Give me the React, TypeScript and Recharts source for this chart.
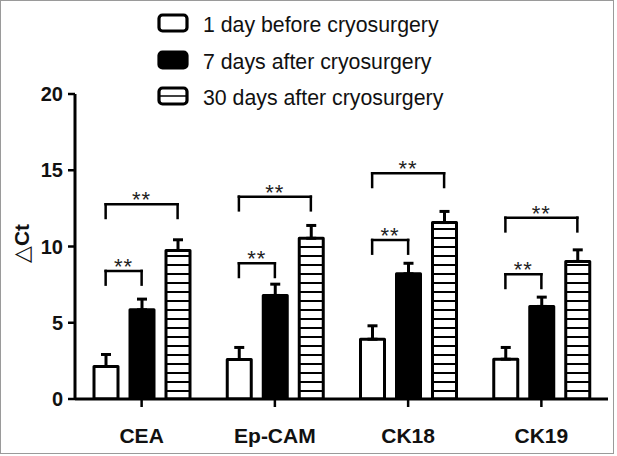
import React from 'react';
import {
  ComposedChart,
  Bar,
  XAxis,
  YAxis,
  ErrorBar,
  ReferenceLine,
  ReferenceDot,
  Legend,
} from 'recharts';

// ---------- data ----------
const categories = ['CEA', 'Ep-CAM', 'CK18', 'CK19'];
const seriesNames = [
  '1 day before cryosurgery',
  '7 days after cryosurgery',
  '30 days after cryosurgery',
];
const beforeValues = [2.13, 2.59, 3.92, 2.61];
const beforeErrors = [0.79, 0.79, 0.88, 0.77];
const day7Values = [5.85, 6.79, 8.21, 6.07];
const day7Errors = [0.7, 0.74, 0.69, 0.61];
const day30Values = [9.74, 10.54, 11.57, 9.02];
const day30Errors = [0.7, 0.84, 0.73, 0.76];
const shortBracketLevels = [8.4, 8.9, 10.43, 8.18];
const longBracketLevels = [12.77, 13.27, 14.8, 11.89];
const bracketLeg = 0.9;
const significanceMark = '**';
const yTicks = [0, 5, 10, 15, 20];
const yLabel = '\u25B3Ct';

const data = categories.map((name, i) => ({
  name,
  pos: i + 0.5,
  before: beforeValues[i],
  beforeErr: [0, beforeErrors[i]],
  day7: day7Values[i],
  day7Err: [0, day7Errors[i]],
  day30: day30Values[i],
  day30Err: [0, day30Errors[i]],
}));

// ---------- layout / style ----------
const W = 617;
const H = 456;
const BAR_OFFSET = 0.27; // offset of side bars from group centre, in group units
const FONT = 'Arial, "Liberation Sans", Helvetica, sans-serif';

const StarShape = (props: any) => (
  <text
    x={props.cx}
    y={props.cy + 3}
    textAnchor="middle"
    fontFamily={FONT}
    fontSize={22}
    fill="#222"
    letterSpacing={1}
  >
    {significanceMark}
  </text>
);

const YLabel = (props: any) => {
  const vb = props.viewBox || { x: 0, y: 94, width: 75, height: 305 };
  const cx = 21;
  const cy = vb.y + vb.height / 2 - 3;
  return (
    <text
      x={cx}
      y={cy}
      transform={`rotate(-90 ${cx} ${cy})`}
      textAnchor="middle"
      dominantBaseline="central"
      fontFamily={FONT}
      fontSize={21}
      fontWeight="bold"
      fill="#111"
    >
      <tspan fontWeight="normal" fontSize={22}>{yLabel.charAt(0)}</tspan>
      <tspan>{yLabel.slice(1)}</tspan>
    </text>
  );
};

const LegendContent = () => {
  const rows = [23, 60, 96];
  const fills = ['#fff', '#000', '#fff'];
  return (
    <svg width={440} height={115} style={{ overflow: 'visible' }}>
      {seriesNames.map((s, i) => (
        <g key={s}>
          <rect
            x={9}
            y={rows[i] - 8}
            width={28}
            height={16}
            rx={3.5}
            fill={fills[i]}
            stroke="#000"
            strokeWidth={3.2}
          />
          {i === 2 && (
            <line x1={10} x2={36} y1={rows[i]} y2={rows[i]} stroke="#000" strokeWidth={1.5} />
          )}
          <text
            x={53}
            y={rows[i] + 8.5}
            fontFamily={FONT}
            fontSize={21.3}
            fill="#111"
          >
            {s}
          </text>
        </g>
      ))}
    </svg>
  );
};

const brackets = categories.flatMap((c, i) => {
  const centre = data[i].pos;
  const left = centre - BAR_OFFSET;
  const mid = centre;
  const right = centre + BAR_OFFSET;
  const out: any[] = [];
  const mk = (key: string, x1: number, x2: number, lvl: number) => {
    const common = {
      xAxisId: 'n',
      stroke: '#000',
      strokeWidth: 2.5,
      strokeLinecap: 'square' as const,
      ifOverflow: 'visible' as const,
    };
    out.push(
      <ReferenceLine key={key + 'h'} {...common} segment={[{ x: x1, y: lvl }, { x: x2, y: lvl }]} />,
      <ReferenceLine key={key + 'l'} {...common} segment={[{ x: x1, y: lvl }, { x: x1, y: lvl - bracketLeg }]} />,
      <ReferenceLine key={key + 'r'} {...common} segment={[{ x: x2, y: lvl }, { x: x2, y: lvl - bracketLeg }]} />,
      <ReferenceDot
        key={key + 's'}
        xAxisId="n"
        x={(x1 + x2) / 2}
        y={lvl}
        r={0}
        shape={StarShape}
        ifOverflow="visible"
      />
    );
  };
  mk(c + 'short', left, mid, shortBracketLevels[i]);
  mk(c + 'long', left, right, longBracketLevels[i]);
  return out;
});

export default function App() {
  return (
    <div
      style={{
        position: 'absolute',
        left: 0,
        top: 0,
        width: W,
        height: H,
        background: '#fff',
      }}
    >
      <svg width={0} height={0} style={{ position: 'absolute' }}>
        <defs>
          <pattern id="hstripes" patternUnits="userSpaceOnUse" width={10} height={9}>
            <rect width={10} height={9} fill="#fff" />
            <rect y={3} width={10} height={2} fill="#000" />
          </pattern>
        </defs>
      </svg>
      <div
        style={{
          position: 'absolute',
          left: 0,
          top: 0,
          width: 612,
          height: 452,
          border: '1px solid #9a9a9a',
          pointerEvents: 'none',
          zIndex: 2,
        }}
      />
      <ComposedChart
        width={W}
        height={H}
        data={data}
        margin={{ top: 94, right: 9, bottom: 27, left: 0 }}
        barSize={24}
        barGap={12}
      >
        <XAxis
          xAxisId="c"
          dataKey="name"
          height={30}
          axisLine={{ stroke: '#000', strokeWidth: 3 }}
          tickLine={{ stroke: '#000', strokeWidth: 2.5 }}
          tickSize={8}
          tickMargin={21}
          tick={{ fontFamily: FONT, fontSize: 21, fontWeight: 'bold', fill: '#111' }}
        />
        <XAxis
          xAxisId="n"
          dataKey="pos"
          type="number"
          domain={[0, categories.length]}
          hide
          allowDataOverflow
          padding={{ left: 0, right: 0 }}
        />
        <YAxis
          width={75}
          domain={[0, 20]}
          ticks={yTicks}
          interval={0}
          allowDataOverflow
          axisLine={{ stroke: '#000', strokeWidth: 3 }}
          tickLine={{ stroke: '#000', strokeWidth: 2.5 }}
          tickSize={7}
          tickMargin={5}
          tick={{ fontFamily: FONT, fontSize: 20, fontWeight: 'bold', fill: '#111' }}
          label={<YLabel />}
        />
        <Legend
          layout="vertical"
          align="center"
          verticalAlign="middle"
          wrapperStyle={{ top: 0, left: 150, width: 440, height: 115 }}
          content={() => <LegendContent />}
        />
        <Bar
          xAxisId="c"
          dataKey="before"
          name={seriesNames[0]}
          fill="#fff"
          stroke="#000"
          strokeWidth={3}
          strokeLinejoin="round"
          isAnimationActive={false}
        >
          <ErrorBar dataKey="beforeErr" direction="y" width={5} stroke="#000" strokeWidth={3} />
        </Bar>
        <Bar
          xAxisId="c"
          dataKey="day7"
          name={seriesNames[1]}
          fill="#000"
          stroke="#000"
          strokeWidth={3}
          strokeLinejoin="round"
          isAnimationActive={false}
        >
          <ErrorBar dataKey="day7Err" direction="y" width={5} stroke="#000" strokeWidth={3} />
        </Bar>
        <Bar
          xAxisId="c"
          dataKey="day30"
          name={seriesNames[2]}
          fill="url(#hstripes)"
          stroke="#000"
          strokeWidth={3}
          strokeLinejoin="round"
          isAnimationActive={false}
        >
          <ErrorBar dataKey="day30Err" direction="y" width={5} stroke="#000" strokeWidth={3} />
        </Bar>
        {brackets}
      </ComposedChart>
    </div>
  );
}
